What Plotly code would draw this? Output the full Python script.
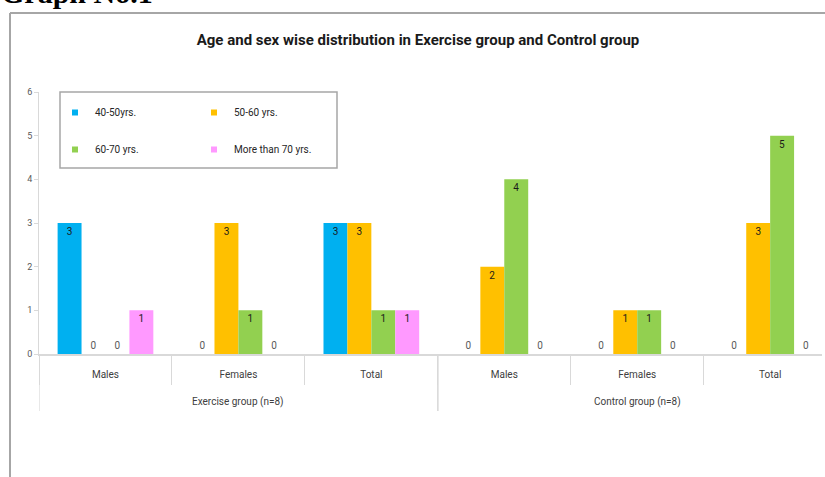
import plotly.graph_objects as go

# Category labels (group / sex)
group_names = ["Exercise group (n=8)", "Control group (n=8)"]
sexes = ["Males", "Females", "Total", "Males", "Females", "Total"]
positions = list(range(len(sexes)))
group_members = [[0, 1, 2], [3, 4, 5]]

# Counts per age band
age_bands = ["40-50yrs.", "50-60 yrs.", "60-70 yrs.", "More than 70 yrs."]
age_40_50 = [3, 0, 3, 0, 0, 0]
age_50_60 = [0, 3, 3, 2, 1, 3]
age_60_70 = [0, 1, 1, 4, 1, 5]
age_70_plus = [1, 0, 1, 0, 0, 0]
series = [age_40_50, age_50_60, age_60_70, age_70_plus]
colors = ["#00B0F0", "#FFC000", "#92D050", "#FF99FF"]

y_ticks = [0, 1, 2, 3, 4, 5, 6]

W, H = 825, 477
ML, MR, MT, MB = 39, 3, 92, 123
PW, PH = W - ML - MR, H - MT - MB

FONT = "Roboto, Arial, sans-serif"
AXIS_GREY = "#d9d9d9"


def px_x(px):
    return (px - ML) / PW


def px_y(py):
    return (H - MB - py) / PH


fig = go.Figure()

for name, vals, col in zip(age_bands, series, colors):
    fig.add_trace(go.Bar(
        x=positions,
        y=vals,
        name=name,
        marker=dict(color=col, line=dict(width=0)),
        text=[str(v) for v in vals],
        textposition=["outside" if v == 0 else "inside" for v in vals],
        insidetextanchor="end",
        textangle=0,
        insidetextfont=dict(family=FONT, size=10, color="#1a1a1a"),
        outsidetextfont=dict(family=FONT, size=10, color="#595959"),
        constraintext="none",
        cliponaxis=False,
        showlegend=False,
    ))

# Legend keys: small squares, two columns
for i, (name, col) in enumerate(zip(age_bands, colors)):
    fig.add_trace(go.Scatter(
        x=[None], y=[None],
        mode="markers",
        marker=dict(symbol="square", size=6, color=col),
        name=name,
        legendgroup=name,
        legend="legend" if i % 2 == 0 else "legend2",
        showlegend=True,
    ))

legend_common = dict(
    bgcolor="rgba(0,0,0,0)",
    borderwidth=0,
    orientation="v",
    tracegroupgap=18,
    font=dict(family=FONT, size=10, color="#262626"),
    xanchor="left",
    yanchor="top",
    itemwidth=30,
)

# Group labels centred under their categories
annotations = [
    dict(text=g, xref="x", yref="paper",
         x=sum(m) / len(m), y=px_y(402), xanchor="center", yanchor="middle",
         showarrow=False, font=dict(family=FONT, size=10, color="#404040"))
    for g, m in zip(group_names, group_members)
]
annotations.append(
    dict(text="<b>Graph No.1</b>", xref="paper", yref="paper",
         x=px_x(-1), y=px_y(-8), xanchor="left", yanchor="middle",
         showarrow=False,
         font=dict(family="Liberation Serif, Times New Roman, serif",
                   size=30, color="black"))
)

# Dividers between the two groups (run through both label rows)
shapes = []
for m in group_members:
    for xb in (m[0] - 0.5, m[-1] + 0.5):
        shapes.append(dict(type="line", xref="x", yref="paper",
                           x0=xb, x1=xb, y0=0, y1=px_y(411),
                           line=dict(color=AXIS_GREY, width=1.2)))
shapes += [
    # chart frame
    dict(type="line", xref="paper", yref="paper",
         x0=px_x(10), x1=px_x(840), y0=px_y(13), y1=px_y(13),
         line=dict(color="#a6a6a6", width=2)),
    dict(type="line", xref="paper", yref="paper",
         x0=px_x(10), x1=px_x(10), y0=px_y(13), y1=px_y(490),
         line=dict(color="#a6a6a6", width=2)),
    # legend box
    dict(type="rect", xref="paper", yref="paper",
         x0=px_x(60), x1=px_x(337), y0=px_y(168), y1=px_y(92),
         line=dict(color="#a6a6a6", width=1.5), fillcolor="rgba(0,0,0,0)"),
]

fig.update_layout(
    width=W, height=H,
    margin=dict(l=ML, r=MR, t=MT, b=MB, pad=0),
    paper_bgcolor="white",
    plot_bgcolor="white",
    barmode="group",
    bargap=0.28,
    bargroupgap=0,
    font=dict(family=FONT, color="#404040"),
    title=dict(
        text="<b>Age and sex wise distribution in Exercise group and Control group</b>",
        x=418 / W, xanchor="center",
        y=1 - 40 / H, yanchor="middle", yref="container",
        font=dict(family=FONT, size=15, color="#1a1a1a"),
    ),
    legend=dict(x=px_x(55), y=px_y(98), **legend_common),
    legend2=dict(x=px_x(194), y=px_y(98), **legend_common),
    xaxis=dict(
        range=[-0.5, 5.39],
        tickvals=positions, ticktext=sexes,
        ticks="", ticklabelstandoff=10,
        minor=dict(tick0=-0.5, dtick=1, ticks="outside", ticklen=29,
                   tickcolor=AXIS_GREY, tickwidth=1.2, showgrid=False),
        showline=True, linecolor=AXIS_GREY, linewidth=2,
        tickfont=dict(family=FONT, size=10, color="#404040"),
        showgrid=False, zeroline=False,
    ),
    yaxis=dict(
        range=[0, 6],
        tickvals=y_ticks,
        showline=True, linecolor=AXIS_GREY, linewidth=1,
        ticks="outside", ticklen=4, tickcolor=AXIS_GREY,
        tickfont=dict(family=FONT, size=9, color="#595959"),
        showgrid=False, zeroline=False,
    ),
    shapes=shapes,
    annotations=annotations,
)

fig.write_html("out.html")
